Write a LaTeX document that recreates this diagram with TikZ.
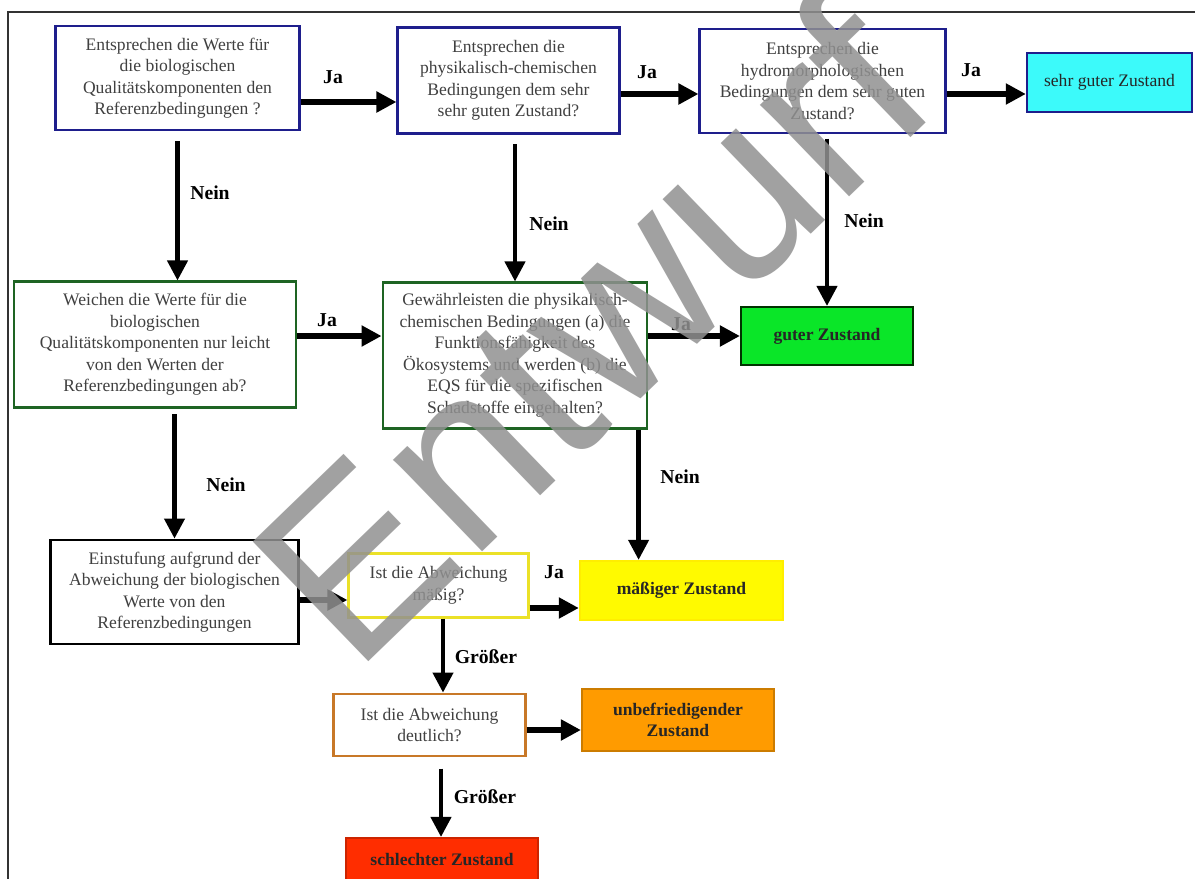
\documentclass[tikz,border=0pt]{standalone}
\usepackage{fontspec}
\setmainfont{Liberation Serif}
\newfontfamily\wmfont{Liberation Sans}
\usetikzlibrary{arrows.meta}

\definecolor{rahmenblau}{RGB}{30,30,140}
\definecolor{rahmengruen}{RGB}{30,100,35}
\definecolor{rahmengelb}{RGB}{235,225,40}
\definecolor{rahmenorange}{RGB}{200,120,40}
\definecolor{sehrgut}{RGB}{60,250,250}
\definecolor{gut}{RGB}{10,230,40}
\definecolor{maessig}{RGB}{255,250,0}
\definecolor{unbefr}{RGB}{255,155,0}
\definecolor{schlecht}{RGB}{255,45,0}
\definecolor{wzgrau}{RGB}{145,145,145}

\tikzset{
  frage/.style={draw, line width=2pt, fill=white, align=center, inner sep=2pt,
    text=black!75, font=\fontsize{12.5}{15.3}\selectfont},
  blaubox/.style={frage, draw=rahmenblau},
  gruenbox/.style={frage, draw=rahmengruen},
  schwarzbox/.style={frage, draw=black},
  ergebnis/.style={draw, line width=1.5pt, align=center, inner sep=2pt,
    text=black!85, font=\bfseries\fontsize{12.5}{15.3}\selectfont},
  pfeil/.style={-{Triangle[length=0.5cm,width=0.5cm]}, line width=3pt},
  ja/.style={pfeil, line width=4pt},
  lbl/.style={font=\bfseries\fontsize{14}{14}\selectfont, inner sep=0pt},
  wasserz/.style={anchor=base west, rotate=44, inner sep=0pt, text=wzgrau,
    text opacity=0.85, font=\wmfont\fontsize{172}{172}\selectfont}
}

\begin{document}
\begin{tikzpicture}[x=0.025cm,y=-0.025cm]
  \useasboundingbox (0,0) rectangle (1195,879);
  \fill[white] (0,0) rectangle (1195,879);
  \draw[line width=1pt, black!80] (8,879) -- (8,12) -- (1195,12);

  \node[blaubox, minimum width=6.08cm, minimum height=2.6cm] (q1) at (177.5,78)
    {Entsprechen die Werte für\\die biologischen\\Qualitätskomponenten den\\Referenzbedingungen ?};
  \node[blaubox, minimum width=5.53cm, minimum height=2.63cm] (q2) at (508.5,80.5)
    {Entsprechen die\\physikalisch-chemischen\\Bedingungen dem sehr\\sehr guten Zustand?};
  \node[blaubox, minimum width=6.13cm, minimum height=2.6cm] (q3) at (822.5,81)
    {Entsprechen die\\hydromorphologischen\\Bedingungen dem sehr guten\\Zustand?};
  \node[ergebnis, font=\fontsize{12.5}{15.3}\selectfont, draw=rahmenblau, fill=sehrgut,
    minimum width=4.13cm, minimum height=1.48cm] (sgut) at (1109.5,82.5) {sehr guter Zustand};

  \node[gruenbox, minimum width=7.05cm, minimum height=3.13cm] (q4) at (155,344.5)
    {Weichen die Werte für die\\biologischen\\Qualitätskomponenten nur leicht\\von den Werten der\\Referenzbedingungen ab?};
  \node[gruenbox, minimum width=6.6cm, minimum height=3.63cm] (q5) at (515,355.5)
    {Gewährleisten die physikalisch-\\chemischen Bedingungen (a) die\\Funktionsfähigkeit des\\Ökosystems und werden (b) die\\EQS für die spezifischen\\Schadstoffe eingehalten?};
  \node[ergebnis, draw=black!80!green, fill=gut, minimum width=4.3cm, minimum height=1.45cm]
    (gut) at (827,336) {guter Zustand};

  \node[schwarzbox, minimum width=6.18cm, minimum height=2.6cm] (einst) at (174.5,592)
    {Einstufung aufgrund der\\Abweichung der biologischen\\Werte von den\\Referenzbedingungen};
  \node[frage, draw=rahmengelb, minimum width=4.48cm, minimum height=1.58cm] (q6) at (438.5,585.5)
    {Ist die Abweichung\\mäßig?};
  \node[ergebnis, draw=maessig!90!orange, fill=maessig, minimum width=5.08cm, minimum height=1.48cm]
    (maessig) at (681.5,590.5) {mäßiger Zustand};
  \node[frage, draw=rahmenorange, minimum width=4.78cm, minimum height=1.55cm] (q7) at (429.5,725)
    {Ist die Abweichung\\deutlich?};
  \node[ergebnis, draw=unbefr!80!black, fill=unbefr, minimum width=4.8cm, minimum height=1.55cm]
    (unbefr) at (678,720) {unbefriedigender\\Zustand};
  \node[ergebnis, draw=schlecht!80!black, fill=schlecht, minimum width=4.8cm, minimum height=1.05cm]
    (schlecht) at (442,859) {schlechter Zustand};

  \draw[ja] (q1.east |- 0,102) -- (q2.west |- 0,102);
  \draw[ja] (q2.east |- 0,94) -- (q3.west |- 0,94);
  \draw[ja] (q3.east |- 0,94) -- (sgut.west |- 0,94);
  \draw[pfeil, shorten <=7pt] (q1.south) -- (q1.south |- q4.north);
  \draw[pfeil, shorten <=7pt] (q5.north |- q2.south) -- (q5.north);
  \draw[pfeil, shorten <=3pt] (gut.north |- q3.south) -- (gut.north);
  \draw[ja] (q4.east |- gut.west) -- (q5.west |- gut.west);
  \draw[ja] (q5.east |- gut.west) -- (gut.west);
  \draw[pfeil, shorten <=4pt] (einst.north |- q4.south) -- (einst.north);
  \draw[pfeil] ([xshift=-7pt]q5.south east) -- ([xshift=-7pt]q5.south east |- maessig.north);
  \draw[ja] (einst.east |- 0,600) -- (q6.west |- 0,600);
  \draw[ja] (q6.east |- 0,608) -- (maessig.west |- 0,608);
  \draw[pfeil] (q6.south -| 443,0) -- (q7.north -| 443,0);
  \draw[ja] (q7.east |- 0,730) -- (unbefr.west |- 0,730);
  \draw[pfeil, shorten <=8pt] (q7.south -| 441,0) -- (schlecht.north -| 441,0);

  \node[lbl] (ja1) at (333,77) {Ja};
  \node[lbl] (ja2) at (647,72) {Ja};
  \node[lbl] (ja3) at (971,70) {Ja};
  \node[lbl] (nein1) at (210,193) {Nein};
  \node[lbl] (nein2) at (549,224) {Nein};
  \node[lbl] (nein3) at (864,221) {Nein};
  \node[lbl] (ja4) at (327,320) {Ja};
  \node[lbl] (ja5) at (681,324) {Ja};
  \node[lbl] (nein4) at (226,485) {Nein};
  \node[lbl] (nein5) at (680,477) {Nein};
  \node[lbl] (ja6) at (554,572) {Ja};
  \node[lbl] (gr1) at (486,657) {Größer};
  \node[lbl] (gr2) at (485,797) {Größer};

  \node[wasserz] (wz) at (354,676) {Entwurf};
\end{tikzpicture}
\end{document}
